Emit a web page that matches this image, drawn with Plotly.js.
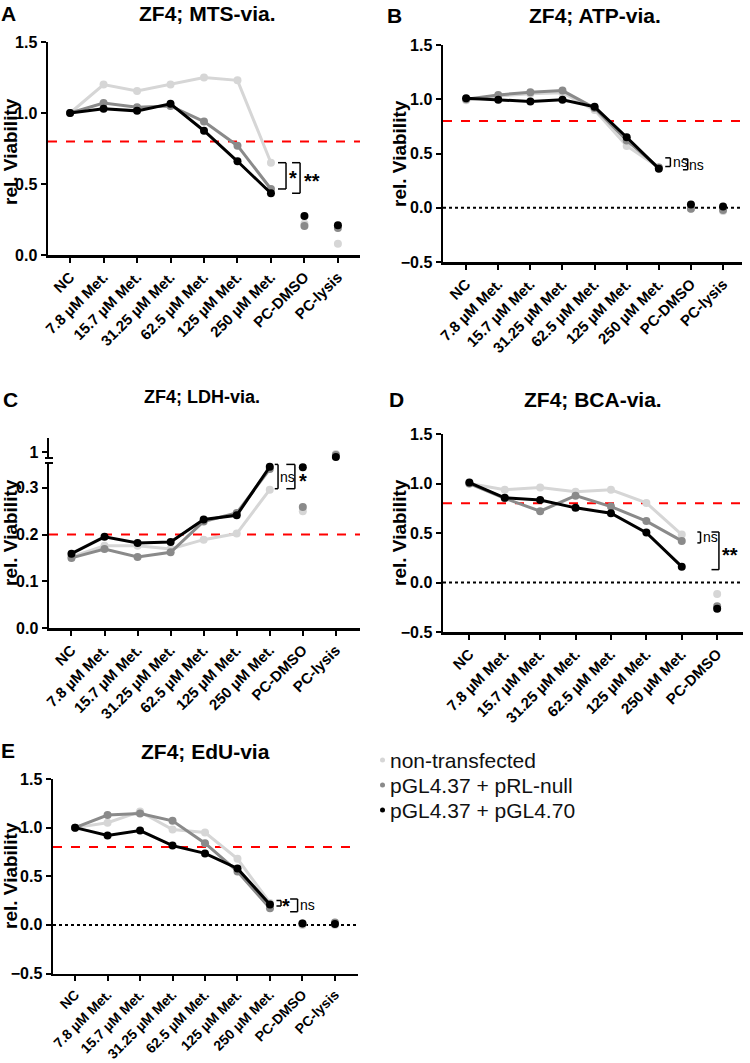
<!DOCTYPE html>
<html><head><meta charset="utf-8">
<script src="https://cdn.plot.ly/plotly-3.0.1.min.js"></script>
<style>html,body{margin:0;padding:0;background:#fff}#chart{width:750px;height:1063px}</style>
</head><body><div id="chart"></div>
<script>
// ---------- data ----------
const catsFull = ['NC','7.8 µM Met.','15.7 µM Met.','31.25 µM Met.','62.5 µM Met.','125 µM Met.','250 µM Met.','PC-DMSO','PC-lysis'];
const catsD = catsFull.slice(0, 8);
const seriesNames = ['non-transfected', 'pGL4.37 + pRL-null', 'pGL4.37 + pGL4.70'];
const seriesColors = ['#d6d6d6', '#8a8a8a', '#000000'];

// A: MTS
const mtsNon  = [1.00, 1.20, 1.155, 1.20, 1.25, 1.23, 0.65, 0.22, 0.08];
const mtsNull = [1.00, 1.07, 1.04, 1.05, 0.94, 0.77, 0.465, 0.205, 0.19];
const mts470  = [1.00, 1.03, 1.015, 1.065, 0.875, 0.66, 0.435, 0.275, 0.21];
// B: ATP
const atpNon  = [0.99, 1.03, 1.05, 1.06, 0.90, 0.57, 0.37, -0.01, -0.03];
const atpNull = [1.00, 1.04, 1.065, 1.08, 0.92, 0.62, 0.37, -0.01, -0.02];
const atp470  = [1.01, 0.995, 0.98, 0.995, 0.93, 0.65, 0.36, 0.03, 0.012];
// C: LDH
const ldhNon  = [0.152, 0.176, 0.176, 0.169, 0.189, 0.202, 0.296, 0.25, 0.99];
const ldhNull = [0.150, 0.169, 0.152, 0.162, 0.228, 0.246, 0.340, 0.259, 0.985];
const ldh470  = [0.159, 0.195, 0.182, 0.184, 0.232, 0.241, 0.345, 0.344, 0.975];
// D: BCA
const bcaNon  = [1.00, 0.937, 0.96, 0.917, 0.937, 0.804, 0.484, -0.116];
const bcaNull = [1.00, 0.85, 0.72, 0.877, 0.767, 0.62, 0.42, -0.24];
const bca470  = [1.01, 0.855, 0.834, 0.754, 0.70, 0.504, 0.16, -0.266];
// E: EdU
const eduNon  = [1.00, 1.05, 1.165, 0.98, 0.95, 0.68, 0.225, 0.00, 0.00];
const eduNull = [1.00, 1.13, 1.145, 1.07, 0.84, 0.55, 0.17, 0.015, 0.025];
const edu470  = [1.00, 0.92, 0.97, 0.815, 0.735, 0.58, 0.21, 0.015, 0.01];

// ---------- helpers ----------
const W = 750, H = 1063;
const F = 'Liberation Sans, Arial, sans-serif';
const px = v => v / W;
const py = v => 1 - v / H;

const traces = [];
function addPanel(xa, ya, cats, sets, pcUpperAxis) {
  sets.forEach((vals, i) => {
    traces.push({
      x: cats.slice(0, 7), y: vals.slice(0, 7), xaxis: xa, yaxis: ya,
      type: 'scatter', mode: 'lines+markers', name: seriesNames[i],
      line: {color: seriesColors[i], width: 3},
      marker: {color: seriesColors[i], size: 8}, cliponaxis: false
    });
    const pcX = cats.slice(7), pcY = vals.slice(7);
    if (pcUpperAxis) {
      traces.push({x: [pcX[0]], y: [pcY[0]], xaxis: xa, yaxis: ya, type: 'scatter', mode: 'markers',
        marker: {color: seriesColors[i], size: 8}, cliponaxis: false});
      traces.push({x: [pcX[1]], y: [pcY[1]], xaxis: xa, yaxis: pcUpperAxis, type: 'scatter', mode: 'markers',
        marker: {color: seriesColors[i], size: 8}, cliponaxis: false});
    } else {
      traces.push({x: pcX, y: pcY, xaxis: xa, yaxis: ya, type: 'scatter', mode: 'markers',
        marker: {color: seriesColors[i], size: 8}, cliponaxis: false});
    }
  });
}
addPanel('x', 'y', catsFull, [mtsNon, mtsNull, mts470]);
addPanel('x2', 'y2', catsFull, [atpNon, atpNull, atp470]);
addPanel('x3', 'y3', catsFull, [ldhNon, ldhNull, ldh470], 'y6');
addPanel('x4', 'y4', catsD, [bcaNon, bcaNull, bca470]);
addPanel('x5', 'y5', catsFull, [eduNon, eduNull, edu470]);

function xax(d0, d1, anchor, cats, range, fs) {
  return {domain: [px(d0), px(d1)], anchor, type: 'category', categoryorder: 'array', categoryarray: cats,
    range, showline: true, linecolor: '#000', linewidth: 2.5, ticks: 'outside', ticklen: 5, tickwidth: 2,
    tickcolor: '#000', tickangle: -45, tickfont: {family: F, size: fs || 15, color: '#000', weight: 'bold'},
    showgrid: false, zeroline: false, fixedrange: true};
}
function yax(top, bottom, anchor, range, tickvals) {
  return {domain: [py(bottom), py(top)], anchor, range, tickvals, tickformat: '.1f',
    showline: true, linecolor: '#000', linewidth: 2.5, ticks: 'outside', ticklen: 5, tickwidth: 2,
    tickcolor: '#000', tickfont: {family: F, size: 16, color: '#000', weight: 'bold'},
    showgrid: false, zeroline: false, fixedrange: true};
}

const layout = {
  width: W, height: H, margin: {l: 0, r: 0, t: 0, b: 0},
  paper_bgcolor: '#fff', plot_bgcolor: '#fff', showlegend: false,
  font: {family: F, color: '#000'},
  xaxis:  xax(48, 360, 'y', catsFull, [-0.66, 8.66]),
  yaxis:  yax(42, 255, 'x', [0, 1.5], [0, 0.5, 1.0, 1.5]),
  xaxis2: xax(443, 742, 'y2', catsFull, [-0.72, 8.59]),
  yaxis2: yax(45, 262, 'x2', [-0.5, 1.5], [-0.5, 0, 0.5, 1.0, 1.5]),
  xaxis3: xax(49, 360, 'y3', catsFull, [-0.68, 8.73]),
  yaxis3: yax(463, 628, 'x3', [0, 0.353], [0, 0.1, 0.2, 0.3]),
  xaxis4: xax(443, 743, 'y4', catsD, [-0.745, 7.73]),
  yaxis4: yax(434, 632, 'x4', [-0.5, 1.5], [-0.5, 0, 0.5, 1.0, 1.5]),
  xaxis5: xax(53, 358, 'y5', catsFull, [-0.68, 8.71], 14),
  yaxis5: yax(779, 973.5, 'x5', [-0.5, 1.5], [-0.5, 0, 0.5, 1.0, 1.5]),
  yaxis6: Object.assign(yax(438, 458, 'x3', [0.97, 1.07], [1]), {tickformat: 'd'}),
  shapes: [], annotations: []
};

// reference lines
function hline(xa, ya, y, color, dash) {
  layout.shapes.push({type: 'line', xref: xa + ' domain', yref: ya, x0: 0, x1: 1, y0: y, y1: y,
    line: {color, width: 2, dash}, layer: 'below'});
}
hline('x', 'y', 0.8, '#ff0000', 'dash');
hline('x2', 'y2', 0.8, '#ff0000', 'dash');
hline('x2', 'y2', 0, '#000', 'dot');
hline('x3', 'y3', 0.2, '#ff0000', 'dash');
hline('x4', 'y4', 0.8, '#ff0000', 'dash');
hline('x4', 'y4', 0, '#000', 'dot');
hline('x5', 'y5', 0.8, '#ff0000', 'dash');
hline('x5', 'y5', 0, '#000', 'dot');

// axis break caps (panel C)
[458, 463].forEach(yy => {
  layout.shapes.push({type: 'line', xref: 'paper', yref: 'paper', x0: px(45), x1: px(53), y0: py(yy), y1: py(yy),
    line: {color: '#000', width: 2}});
});

// significance brackets
function bracket(xa, ya, x0, x1, y0, y1) {
  const l = c => Object.assign({type: 'line', xref: xa, yref: ya, line: {color: '#000', width: 1.5}}, c);
  layout.shapes.push(l({x0, x1, y0, y1: y0}));
  layout.shapes.push(l({x0: x1, x1, y0, y1}));
  layout.shapes.push(l({x0, x1, y0: y1, y1}));
}
function sig(xa, ya, x, y, text, size, bold) {
  layout.annotations.push({xref: xa, yref: ya, x, y, text, showarrow: false, xanchor: 'center', yanchor: 'middle',
    font: {family: F, size, color: '#000', weight: bold ? 'bold' : 'normal'}});
}
// A
bracket('x', 'y', 6.21, 6.45, 0.65, 0.465); sig('x', 'y', 6.66, 0.54, '*', 20, true);
bracket('x', 'y', 6.63, 6.87, 0.65, 0.435); sig('x', 'y', 7.22, 0.52, '**', 20, true);
// B
bracket('x2', 'y2', 6.2, 6.36, 0.46, 0.38); sig('x2', 'y2', 6.66, 0.42, 'ns', 14, false);
bracket('x2', 'y2', 6.75, 6.9, 0.45, 0.35); sig('x2', 'y2', 7.16, 0.39, 'ns', 14, false);
// C
bracket('x3', 'y3', 6.15, 6.25, 0.35, 0.298); sig('x3', 'y3', 6.53, 0.322, 'ns', 14, false);
bracket('x3', 'y3', 6.5, 6.76, 0.35, 0.298); sig('x3', 'y3', 7.0, 0.314, '*', 20, true);
// D
bracket('x4', 'y4', 6.44, 6.53, 0.51, 0.40); sig('x4', 'y4', 6.8, 0.46, 'ns', 14, false);
bracket('x4', 'y4', 6.84, 7.05, 0.51, 0.13); sig('x4', 'y4', 7.36, 0.28, '**', 20, true);
// E
bracket('x5', 'y5', 6.2, 6.34, 0.25, 0.195); sig('x5', 'y5', 6.49, 0.19, '*', 20, true);
bracket('x5', 'y5', 6.62, 6.85, 0.265, 0.135); sig('x5', 'y5', 7.15, 0.20, 'ns', 14, false);

// titles, letters, y-axis titles
function pa(x, y, text, size, opts) {
  layout.annotations.push(Object.assign({xref: 'paper', yref: 'paper', x: px(x), y: py(y), text, showarrow: false,
    xanchor: 'center', yanchor: 'middle', font: {family: F, size, color: '#000', weight: 'bold'}}, opts || {}));
}
pa(207, 14, 'ZF4; MTS-via.', 21);
pa(595, 15, 'ZF4; ATP-via.', 21);
pa(202, 397, 'ZF4; LDH-via.', 18);
pa(593, 400, 'ZF4; BCA-via.', 21);
pa(205, 751, 'ZF4; EdU-via', 21);
pa(8, 14, 'A', 21); pa(395, 15, 'B', 21); pa(10, 399, 'C', 21); pa(396, 400, 'D', 21); pa(8, 750, 'E', 21);
pa(10, 152, 'rel. Viability', 19, {textangle: -90});
pa(400, 154, 'rel. Viability', 19, {textangle: -90});
pa(10, 533, 'rel. Viability', 19, {textangle: -90});
pa(399, 533, 'rel. Viability', 19, {textangle: -90});
pa(10, 876, 'rel. Viability', 19, {textangle: -90});

// legend
const legY = [760, 785, 810];
seriesNames.forEach((n, i) => {
  pa(388, legY[i], n, 21, {xanchor: 'left', font: {family: F, size: 21, color: '#111', weight: 'normal'}});
  layout.shapes.push({type: 'circle', xref: 'paper', yref: 'paper', x0: px(380), x1: px(385), y0: py(legY[i] + 2.5), y1: py(legY[i] - 2.5),
    fillcolor: seriesColors[i], line: {width: 0}});
});

Plotly.newPlot('chart', traces, layout, {staticPlot: true, displayModeBar: false});
</script>
</body></html>
